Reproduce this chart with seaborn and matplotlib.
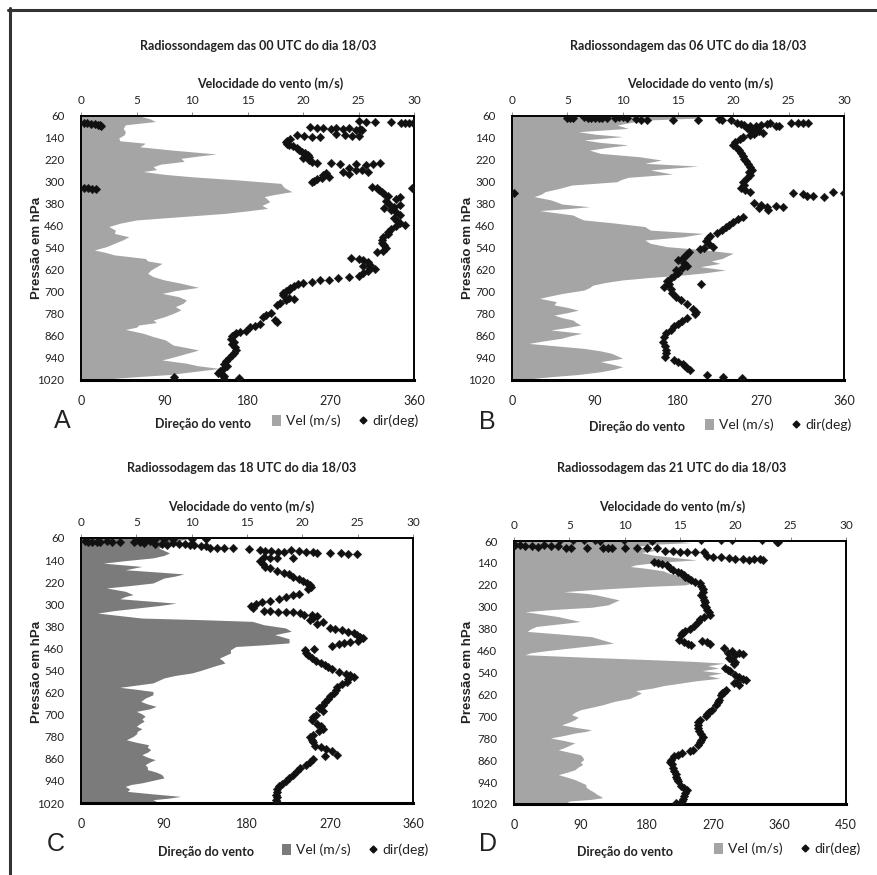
import matplotlib
matplotlib.use("Agg")
import matplotlib.pyplot as plt
import seaborn as sns
import pandas as pd
from matplotlib.lines import Line2D
from matplotlib.patches import Patch

# ---------------- DATA ----------------
titles = ["Radiossondagem das 00 UTC do dia 18/03",
          "Radiossondagem das 06 UTC do dia 18/03",
          "Radiossodagem das 18 UTC do dia 18/03",
          "Radiossodagem das 21 UTC do dia 18/03"]
letters = ["A", "B", "C", "D"]
pressure_ticks = [60, 140, 220, 300, 380, 460, 540, 620, 700, 780, 860, 940, 1020]
speed_ticks = [0, 5, 10, 15, 20, 25, 30]
dir_ticks_360 = [0, 90, 180, 270, 360]
dir_ticks_450 = [0, 90, 180, 270, 360, 450]

# wind speed profiles (pressure hPa, speed m/s)
vel_A = [(60,5.3),(70,6.2),(80,6.7),(92,4.0),(105,3.8),(117,4.0),(128,3.9),(140,3.4),(150,3.5),(159,5.8),
         (172,5.3),(185,8.5),(198,12.2),(206,10.5),(214,9.0),(225,9.3),(235,7.2),(244,6.5),(255,6.8),(262,5.6),
         (272,7.5),(281,10.0),(292,14.0),(305,18.0),(320,18.3),(335,19.0),(345,17.5),(353,16.5),(363,16.8),(372,17.0),
         (385,16.3),(396,16.8),(405,15.0),(414,13.0),(426,9.0),(438,5.0),(450,3.5),(462,2.5),(475,3.1),(487,3.0),
         (499,4.3),(510,3.8),(523,3.0),(535,2.3),(547,1.2),(556,2.2),(565,3.0),(578,5.8),(587,6.0),(596,7.3),
         (608,6.8),(620,6.3),(632,6.0),(644,6.5),(656,7.5),(668,9.0),(683,10.6),(695,8.5),(705,7.3),(717,8.8),
         (729,9.5),(741,9.2),(753,8.5),(765,9.0),(778,8.3),(790,7.5),(802,6.5),(811,6.8),(820,5.2),(828,5.0),
         (836,4.0),(850,5.6),(862,6.5),(874,7.6),(893,8.3),(902,9.5),(911,10.6),(920,9.8),(929,9.0),(938,8.2),
         (947,7.3),(959,9.5),(968,10.5),(978,12.5),(985,11.0),(990,10.0),(1000,8.0),(1008,5.0),(1014,3.0),(1020,1.0)]
vel_B = [(60,17.0),(68,16.5),(75,12.0),(85,10.5),(93,9.5),(105,10.5),(117,6.0),(126,7.5),(135,10.0),(147,6.5),
         (156,8.0),(165,10.5),(175,8.5),(184,7.0),(196,8.0),(208,11.5),(220,13.5),(232,12.0),(242,16.8),(256,12.5),
         (264,13.5),(271,14.5),(283,10.5),(292,9.8),(299,9.5),(311,5.4),(323,4.3),(335,3.0),(345,2.6),(353,2.0),
         (365,3.5),(372,4.0),(380,4.5),(390,7.0),(397,5.0),(404,2.5),(412,4.0),(420,5.5),(430,6.0),(438,6.5),
         (448,9.0),(462,12.0),(475,12.5),(487,17.3),(499,15.5),(511,12.0),(523,12.5),(535,14.0),(547,17.5),(559,20.0),
         (568,19.5),(578,19.0),(587,18.0),(596,18.8),(608,17.0),(620,19.3),(630,17.5),(638,15.5),(647,12.5),(656,10.0),
         (665,8.5),(675,7.3),(684,7.0),(693,6.5),(705,4.6),(714,3.5),(723,2.5),(735,4.0),(747,3.8),(756,5.0),
         (766,6.0),(775,5.0),(784,3.8),(793,4.5),(802,5.5),(811,5.8),(820,6.2),(829,5.0),(838,3.5),(850,6.3),
         (860,5.2),(868,4.5),(877,3.0),(887,1.5),(896,4.0),(905,6.5),(914,8.0),(923,9.0),(941,10.0),(953,8.0),
         (962,9.0),(972,10.0),(981,9.2),(990,8.0),(1000,6.0),(1008,3.5),(1014,2.0),(1020,1.0)]
vel_C = [(60,10.0),(68,9.0),(78,8.5),(96,7.0),(105,7.5),(114,8.0),(123,7.5),(132,6.5),(142,4.0),(151,2.0),
         (163,5.5),(175,4.0),(182,6.5),(190,9.3),(198,8.5),(205,7.5),(214,7.0),(223,6.5),(232,4.5),(241,2.3),
         (253,4.0),(265,4.7),(272,4.0),(280,3.5),(288,6.0),(296,8.6),(305,7.0),(314,5.0),(323,3.0),(332,1.5),
         (341,3.5),(350,5.5),(356,11.0),(362,15.5),(374,16.5),(386,18.5),(398,19.0),(410,17.5),(425,18.8),(440,18.8),
         (447,16.5),(453,14.0),(465,13.5),(477,13.5),(486,13.0),(495,12.5),(504,12.8),(513,13.0),(522,12.2),(531,11.5),
         (540,10.8),(549,10.0),(558,8.5),(567,7.5),(576,7.0),(585,6.5),(593,5.0),(601,3.5),(608,5.0),(616,6.5),
         (628,6.5),(640,5.8),(652,5.4),(661,6.0),(670,6.8),(679,6.2),(688,5.0),(697,5.5),(706,5.8),(715,5.5),
         (724,5.7),(733,5.3),(742,5.0),(751,5.5),(760,5.1),(770,5.0),(779,4.7),(791,4.1),(800,5.0),(809,6.1),
         (818,6.0),(827,6.3),(836,6.0),(845,5.5),(854,6.0),(863,6.7),(872,6.2),(881,5.8),(890,6.0),(899,6.0),
         (908,6.8),(917,7.3),(929,7.5),(938,6.5),(947,5.5),(953,4.5),(960,4.0),(969,4.4),(978,4.2),(987,6.5),
         (996,9.0),(1002,8.0),(1008,6.5),(1014,6.8),(1020,6.7)]
vel_D = [(60,14.5),(66,16.0),(72,12.5),(81,11.0),(87,12.0),(93,13.0),(102,11.5),(111,12.5),(120,14.5),(129,16.5),
         (138,13.0),(147,11.0),(153,10.5),(160,12.0),(169,13.5),(178,14.0),(187,15.0),(196,15.5),(208,16.5),(220,15.5),
         (226,12.0),(233,9.0),(239,6.5),(245,4.5),(251,6.5),(257,7.5),(266,8.5),(275,9.5),(284,9.0),(293,8.5),
         (302,7.0),(310,3.5),(318,1.0),(327,2.5),(336,4.0),(345,5.0),(354,6.0),(363,4.0),(372,2.0),(381,1.5),
         (390,1.2),(399,4.0),(409,7.0),(421,8.0),(433,9.0),(442,7.0),(451,5.0),(460,3.0),(468,1.5),(475,1.0),
         (485,7.0),(494,13.0),(500,16.5),(506,19.0),(515,17.5),(524,18.5),(533,17.0),(542,18.8),(551,17.5),(561,18.6),
         (570,16.5),(579,15.0),(588,13.5),(597,12.5),(606,11.0),(615,11.5),(625,11.0),(634,10.5),(646,9.0),(658,8.0),
         (667,7.0),(676,6.0),(685,5.5),(694,5.2),(703,5.8),(712,5.5),(721,5.0),(731,4.3),(740,5.5),(749,7.0),
         (755,6.5),(761,5.5),(770,4.5),(779,3.3),(788,4.5),(797,5.5),(806,5.0),(815,4.5),(822,4.0),(831,5.0),
         (840,6.0),(849,6.2),(858,6.3),(867,6.0),(876,6.2),(885,5.8),(895,5.5),(904,4.8),(913,4.0),(922,4.8),
         (931,5.5),(940,6.0),(949,6.5),(958,6.5),(967,6.8),(976,7.2),(985,7.5),(991,7.8),(997,8.0),(1003,7.0),
         (1009,5.0),(1014,4.8),(1020,4.5)]

# wind direction observations (pressure hPa, direction deg)
dir_A = [(84,3),(86,7),(88,11),(90,15),(92,18),(94,20),(96,22),(77,300),(80,308),(80,318),(80,335),(85,346),
         (86,350),(84,355),(85,359),(100,248),(103,255),(105,262),(107,270),(102,276),(108,283),(104,290),(110,297),
         (112,304),(106,302),(125,276),(128,285),(132,293),(134,300),(130,233),(133,241),(136,250),(135,258),
         (145,226),(150,223),(155,222),(160,223),(165,225),(170,229),(175,233),(184,236),(190,239),(196,242),
         (202,245),(208,246),(214,240),(220,246),(226,250),(230,255),(232,270),(234,280),(236,297),(238,308),
         (234,316),(232,323),(250,290),(255,297),(258,304),(262,310),(268,265),(275,262),(280,268),(285,260),
         (290,255),(295,252),(300,250),(262,283),(270,290),(323,3),(323,8),(324,12),(326,16),(323,358),
         (318,315),(322,320),(330,322),(338,325),(345,328),(352,332),(360,340),(355,345),(370,330),(380,333),
         (390,338),(400,335),(410,340),(420,345),(385,345),(395,328),(430,338),(440,342),(450,345),(460,340),
         (470,335),(480,332),(455,350),(490,332),(500,327),(510,325),(520,325),(530,328),(540,330),(550,326),
         (555,320),(575,292),(580,300),(585,305),(590,310),(600,312),(605,305),(612,312),(618,318),(625,310),
         (630,305),(640,300),(646,290),(650,278),(655,268),(658,258),(662,250),(668,240),(672,235),(678,230),
         (685,226),(692,225),(698,222),(705,218),(712,218),(720,225),(725,230),(730,222),(740,215),(748,212),
         (778,205),(785,200),(790,197),(800,210),(808,212),(815,193),(822,188),(826,183),(840,178),(845,172),
         (850,168),(855,165),(860,163),(870,162),(880,165),(890,163),(900,166),(910,168),(920,165),(930,163),
         (940,160),(950,157),(960,155),(970,158),(980,154),(988,150),(995,148),(1000,152),(1006,155),
         (1010,100),(1012,171),(1015,155)]
dir_B = [(66,60),(67,63),(68,66),(65,78),(66,82),(68,86),(67,90),(66,94),(68,98),(67,103),(66,112),(64,116),
         (65,120),(66,125),(72,134),(73,140),(74,146),(75,175),(74,202),(72,224),(74,228),(76,237),(87,244),
         (90,248),(92,252),(95,258),(97,265),(93,270),(90,276),(87,280),(85,303),(84,310),(86,316),(85,321),
         (95,290),(98,286),(105,255),(110,262),(115,268),(120,272),(112,258),(118,265),(125,262),(130,258),
         (135,251),(145,247),(155,242),(165,240),(175,244),(185,246),(195,248),(205,250),(215,252),(225,254),
         (235,256),(245,258),(255,260),(265,257),(275,258),(285,255),(300,250),(310,252),(320,248),(330,253),
         (335,258),(341,2),(340,305),(338,348),(341,360),(345,316),(350,320),(352,326),(356,338),(378,262),
         (385,270),(390,276),(395,268),(400,278),(392,294),(388,286),(426,250),(435,245),(445,240),(455,235),
         (462,232),(475,228),(485,222),(495,215),(505,212),(515,210),(525,214),(535,218),(541,208),(545,204),
         (553,192),(560,190),(568,188),(575,185),(584,180),(596,186),(605,190),(612,184),(620,178),(630,180),
         (640,176),(650,172),(660,168),(670,170),(680,165),(670,205),(690,172),(705,173),(717,178),(730,183),
         (745,190),(760,196),(772,199),(780,198),(795,190),(805,184),(815,180),(825,176),(838,172),(850,167),
         (865,165),(880,164),(895,166),(910,167),(923,167),(935,166),(947,176),(955,180),(962,185),(970,188),
         (978,190),(985,193),(1002,211),(1008,229),(1014,249)]
dir_C = [(62,68),(63,80),(62,90),(64,100),(63,120),(62,136),(68,60),(70,75),(72,4),(74,8),(73,12),(75,17),
         (74,21),(72,28),(73,34),(76,42),(74,57),(76,64),(78,68),(80,80),(82,88),(84,93),(78,100),(80,106),
         (82,113),(86,118),(84,122),(88,130),(90,136),(95,140),(96,148),(97,155),(98,165),(99,182),(104,194),
         (106,200),(108,206),(110,214),(112,220),(105,228),(108,236),(110,244),(112,252),(114,256),(116,270),
         (114,282),(117,290),(119,299),(130,198),(132,205),(134,212),(133,230),(145,194),(155,197),(165,200),
         (170,205),(178,212),(185,220),(192,226),(200,230),(208,236),(215,241),(222,245),(230,248),(238,249),
         (245,246),(262,236),(268,230),(275,222),(282,215),(288,205),(293,196),(298,190),(305,184),(312,186),
         (325,198),(326,205),(327,214),(328,222),(329,230),(331,238),(338,242),(340,250),(342,256),(350,252),
         (358,248),(365,262),(372,256),(385,270),(390,275),(395,283),(400,290),(405,296),(410,299),(418,303),
         (422,306),(432,300),(437,292),(441,285),(445,280),(450,272),(465,243),(462,253),(475,244),(485,246),
         (495,250),(505,255),(512,260),(520,265),(528,268),(535,272),(545,280),(552,287),(558,292),(565,296),
         (572,290),(580,288),(590,283),(600,278),(610,276),(620,274),(634,270),(645,268),(655,265),(665,262),
         (675,258),(688,262),(700,255),(710,252),(720,250),(732,256),(742,260),(752,262),(760,258),(772,252),
         (782,248),(792,250),(800,252),(812,254),(818,260),(825,266),(833,272),(845,278),(850,265),(862,252),
         (872,248),(882,244),(893,238),(905,234),(917,230),(930,225),(940,222),(950,218),(960,215),(970,213),
         (980,212),(990,211),(1000,212),(1010,211),(1016,212)]
dir_D = [(57,63),(58,80),(57,95),(58,110),(60,117),(58,149),(59,187),(58,253),(58,280),(58,296),(58,336),
         (62,356),(64,358),(74,2),(76,8),(78,15),(80,25),(82,32),(76,41),(78,50),(80,60),(84,70),(86,77),
         (85,99),(84,120),(86,128),(87,133),(85,151),(84,167),(86,180),(87,194),(96,205),(98,215),(100,225),
         (99,235),(101,245),(99,257),(114,262),(117,270),(120,280),(122,292),(124,300),(126,310),(128,318),
         (125,325),(127,333),(129,338),(135,190),(140,195),(145,200),(147,208),(160,212),(166,216),(172,222),
         (178,226),(184,230),(190,232),(196,236),(202,240),(208,246),(214,252),(226,254),(235,256),(245,256),
         (257,254),(265,256),(275,257),(281,259),(293,258),(302,260),(312,262),(320,264),(330,266),(336,258),
         (345,252),(354,250),(372,244),(380,238),(388,232),(395,228),(402,226),(421,224),(428,230),(435,236),
         (439,240),(425,255),(430,262),(437,266),(451,284),(463,296),(468,305),(472,311),(475,300),(470,290),
         (488,292),(495,296),(502,300),(510,298),(524,286),(530,290),(536,293),(548,300),(555,305),(562,310),
         (568,315),(573,302),(578,298),(585,305),(603,288),(610,285),(615,282),(621,280),(640,278),(648,276),
         (658,274),(676,268),(685,264),(692,262),(700,260),(712,252),(720,250),(730,249),(743,250),(755,251),
         (765,253),(775,256),(785,254),(795,252),(804,250),(822,242),(828,238),(834,228),(840,222),(846,217),
         (858,213),(866,212),(875,214),(888,216),(900,217),(910,219),(920,220),(930,221),(937,222),(955,226),
         (962,230),(970,234),(980,232),(992,230),(1000,229),(1010,228),(1016,220)]

fill_colors = ["#a5a5a5", "#a5a5a5", "#7b7b7b", "#a5a5a5"]

# ---------------- STYLE ----------------
sns.set_theme(style="white")
MAIN = ["Lato", "DejaVu Sans"]
plt.rcParams["font.family"] = MAIN

W, H = 877, 875
fig = plt.figure(figsize=(W / 100, H / 100), dpi=100)
fig.patch.set_facecolor("white")


def fx(x):
    return x / W


def fy(y):
    return 1 - y / H


# layout in pixels: (left, right, top, bottom)
boxes = [(81, 414, 116, 380), (512, 844, 116, 380), (81, 413, 538, 803), (514, 846, 541, 804)]
title_pos = [(258, 46), (688, 46), (242, 468), (672, 468)]
vel_label_pos = [(270, 84), (700, 84), (241, 507), (672, 507)]
dir_label_pos = [(203, 424), (637, 427), (206, 852), (625, 852)]
ylab_pos = [(37, 248), (468, 248), (37, 672), (468, 672)]
letter_pos = [(62, 421), (487, 422), (56, 844), (488, 844)]
legend_pos = [(345, 421), (778, 425), (355, 850), (787, 849)]

vels = [vel_A, vel_B, vel_C, vel_D]
dirs = [dir_A, dir_B, dir_C, dir_D]

for i in range(4):
    l, r, t, b = boxes[i]
    ax = fig.add_axes([fx(l), fy(b), (r - l) / W, (b - t) / H])
    vdf = pd.DataFrame(vels[i], columns=["p", "vel"])
    ddf = pd.DataFrame(dirs[i], columns=["p", "dir"])

    ax.fill_betweenx(vdf["p"], 0, vdf["vel"], color=fill_colors[i], lw=0, zorder=1)
    ax.set_xlim(0, 30)

    ax2 = ax.twiny()
    sns.scatterplot(data=ddf, x="dir", y="p", ax=ax2, marker="D", s=19,
                    color="#111", edgecolor="#111", linewidth=0.3, zorder=3)
    dmax = 450 if i == 3 else 360
    ax2.set_xlim(0, dmax)
    ax2.set_xticks(dir_ticks_450 if i == 3 else dir_ticks_360)
    ax2.set_xlabel("")
    ax2.set_ylabel("")
    ax2.xaxis.tick_bottom()
    ax2.tick_params(axis="x", bottom=False, top=False, labelsize=9, pad=5, colors="#222")

    ax.set_ylim(1020, 60)
    ax.set_yticks(pressure_ticks)
    ax.xaxis.tick_top()
    ax.set_xticks(speed_ticks)
    ax.tick_params(axis="x", top=True, bottom=False, length=3, width=0.6, color="#777",
                   labelsize=8.5, pad=4, labelcolor="#222")
    ax.tick_params(axis="y", left=False, labelsize=8.3, pad=6, labelcolor="#222")
    ax.set_xlabel("")
    ax.set_ylabel("")

    for a in (ax, ax2):
        for s in a.spines.values():
            s.set_color("black")
            s.set_linewidth(1.2)
    ax2.spines["bottom"].set_linewidth(2.2)

    fig.text(fx(title_pos[i][0]), fy(title_pos[i][1]), titles[i], ha="center", va="center",
             fontsize=9, fontweight="bold", color="#222")
    fig.text(fx(vel_label_pos[i][0]), fy(vel_label_pos[i][1]), "Velocidade do vento (m/s)",
             ha="center", va="center", fontsize=9, fontweight="bold", color="#222")
    fig.text(fx(dir_label_pos[i][0]), fy(dir_label_pos[i][1]), "Direção do vento",
             ha="center", va="center", fontsize=9, fontweight="bold", color="#222")
    fig.text(fx(ylab_pos[i][0]), fy(ylab_pos[i][1]), "Pressão em hPa", rotation=90,
             ha="center", va="center", fontsize=9.5, fontweight="bold", color="#222",
             family=["Liberation Sans", "DejaVu Sans"])
    fig.text(fx(letter_pos[i][0]), fy(letter_pos[i][1]), letters[i], ha="center", va="center",
             fontsize=18, color="#222", family=["Liberation Sans", "DejaVu Sans"])

    handles = [Patch(facecolor=fill_colors[i], edgecolor="none"),
               Line2D([], [], marker="D", ls="", color="#111", markersize=3.5)]
    fig.legend(handles, ["Vel (m/s)", "dir(deg)"], loc="center",
               bbox_to_anchor=(fx(legend_pos[i][0]), fy(legend_pos[i][1])), ncol=2,
               frameon=False, fontsize=10, handlelength=0.7, handleheight=0.9,
               handletextpad=0.3, columnspacing=1.3, borderpad=0, labelcolor="#222")

# outer frame lines (top and left)
fig.add_artist(Line2D([fx(8), fx(877)], [fy(9.5), fy(9.5)], color="#333", lw=2.2))
fig.add_artist(Line2D([fx(9.5), fx(9.5)], [fy(8), fy(875)], color="#333", lw=2.2))

fig.savefig("out.png", dpi=100, facecolor="white")
